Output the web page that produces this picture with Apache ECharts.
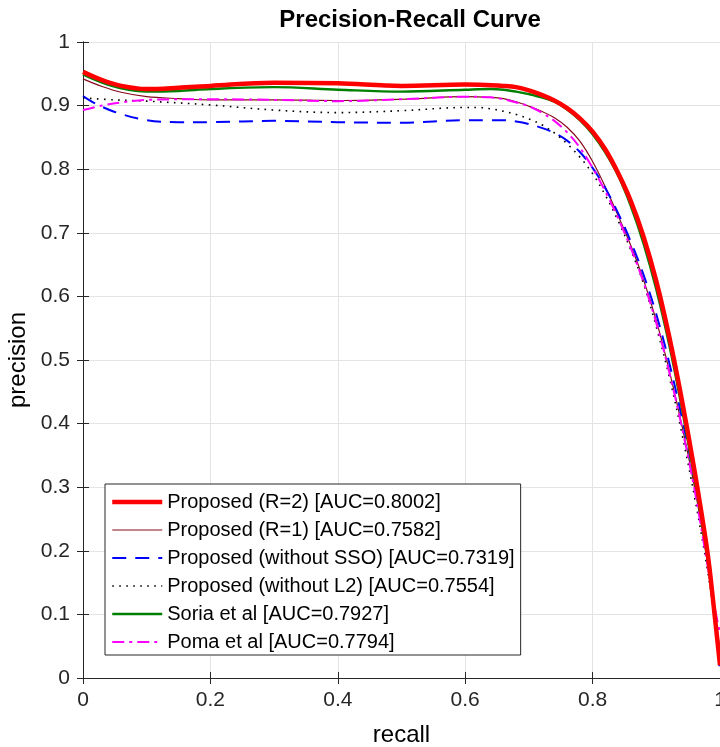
<!DOCTYPE html>
<html>
<head>
<meta charset="utf-8">
<script src="https://cdn.jsdelivr.net/npm/echarts@6/dist/echarts.min.js"></script>
<style>
html,body{margin:0;padding:0;background:#fff;}
#chart{width:720px;height:747px;}
</style>
</head>
<body>
<div id="chart"></div>
<script>
// ---- data (recall, precision) ----
const seriesNames = [
  'Proposed (R=2) [AUC=0.8002]',
  'Proposed (R=1) [AUC=0.7582]',
  'Proposed (without SSO) [AUC=0.7319]',
  'Proposed (without L2) [AUC=0.7554]',
  'Soria et al [AUC=0.7927]',
  'Poma et al [AUC=0.7794]'
];
const xTicks = [0, 0.2, 0.4, 0.6, 0.8, 1];
const yTicks = [0, 0.1, 0.2, 0.3, 0.4, 0.5, 0.6, 0.7, 0.8, 0.9, 1];

const proposedR2 = [[0,0.953],[0.03,0.940],[0.06,0.931],[0.1,0.926],[0.15,0.928],[0.2,0.931],[0.3,0.936],[0.4,0.935],[0.5,0.931],[0.6,0.933],[0.64,0.932],[0.66,0.931],[0.68,0.929],[0.70,0.924],[0.72,0.917],[0.74,0.908],[0.76,0.896],[0.78,0.880],[0.80,0.859],[0.82,0.831],[0.84,0.794],[0.86,0.750],[0.88,0.694],[0.90,0.624],[0.92,0.538],[0.94,0.438],[0.96,0.326],[0.98,0.200],[0.99,0.114],[1.0,0.020]];
const proposedR1 = [[0,0.942],[0.03,0.930],[0.06,0.921],[0.1,0.914],[0.15,0.911],[0.2,0.909],[0.3,0.909],[0.4,0.908],[0.5,0.910],[0.6,0.914],[0.64,0.913],[0.66,0.911],[0.68,0.906],[0.70,0.899],[0.72,0.891],[0.74,0.881],[0.76,0.866],[0.78,0.844],[0.80,0.812],[0.82,0.772],[0.84,0.727],[0.86,0.680],[0.88,0.626],[0.90,0.562],[0.92,0.485],[0.94,0.398],[0.96,0.300],[0.98,0.185],[0.99,0.115],[1.0,0.045]];
const withoutSSO = [[0,0.915],[0.02,0.903],[0.05,0.890],[0.1,0.877],[0.15,0.874],[0.2,0.874],[0.3,0.876],[0.4,0.874],[0.5,0.873],[0.6,0.877],[0.64,0.877],[0.66,0.877],[0.68,0.875],[0.70,0.871],[0.72,0.865],[0.74,0.857],[0.76,0.845],[0.78,0.827],[0.80,0.802],[0.82,0.770],[0.84,0.731],[0.86,0.686],[0.88,0.634],[0.90,0.572],[0.92,0.497],[0.94,0.410],[0.96,0.312],[0.98,0.195],[0.99,0.120],[1.0,0.010]];
const withoutL2 = [[0,0.912],[0.05,0.909],[0.1,0.907],[0.2,0.901],[0.3,0.893],[0.4,0.889],[0.5,0.892],[0.6,0.897],[0.62,0.897],[0.64,0.895],[0.66,0.891],[0.68,0.886],[0.70,0.879],[0.72,0.870],[0.74,0.857],[0.76,0.840],[0.78,0.819],[0.80,0.793],[0.82,0.759],[0.84,0.719],[0.86,0.673],[0.88,0.620],[0.90,0.552],[0.92,0.475],[0.94,0.385],[0.96,0.285],[0.98,0.172],[0.99,0.105],[1.0,0.030]];
const soria = [[0,0.949],[0.03,0.936],[0.06,0.927],[0.1,0.922],[0.15,0.923],[0.2,0.926],[0.3,0.929],[0.4,0.925],[0.5,0.922],[0.6,0.925],[0.64,0.926],[0.66,0.925],[0.68,0.922],[0.70,0.918],[0.72,0.913],[0.74,0.906],[0.76,0.894],[0.78,0.877],[0.80,0.855],[0.82,0.826],[0.84,0.790],[0.86,0.742],[0.88,0.683],[0.90,0.611],[0.92,0.525],[0.94,0.425],[0.96,0.313],[0.98,0.188],[0.99,0.108],[1.0,0.025]];
const poma = [[0,0.893],[0.03,0.900],[0.06,0.905],[0.1,0.909],[0.2,0.910],[0.3,0.909],[0.4,0.907],[0.5,0.910],[0.6,0.914],[0.64,0.913],[0.66,0.910],[0.68,0.905],[0.70,0.899],[0.72,0.889],[0.74,0.876],[0.76,0.858],[0.78,0.834],[0.80,0.802],[0.82,0.765],[0.84,0.723],[0.86,0.676],[0.88,0.622],[0.90,0.558],[0.92,0.482],[0.94,0.395],[0.96,0.296],[0.98,0.180],[0.99,0.120],[1.0,0.070]];

const seriesData = [proposedR2, proposedR1, withoutSSO, withoutL2, soria, poma];
const styles = [
  {color:'#ff0000', width:4.5, type:'solid'},
  {color:'#850a1c', width:1.2, type:'solid'},
  {color:'#0000ff', width:2, type:[14,9]},
  {color:'#000000', width:1.6, type:[1.6,5.4]},
  {color:'#008000', width:2.4, type:'solid'},
  {color:'#ff00ff', width:2, type:[12,5,3,5]}
];

const FONT = '"Liberation Sans", Arial, sans-serif';
const axisColor = '#262626';
const gridColor = '#e3e3e3';

const chart = echarts.init(document.getElementById('chart'), null, {renderer:'canvas'});
const option = {
  animation: false,
  backgroundColor: '#ffffff',
  title: {
    text: 'Precision-Recall Curve',
    left: 405, top: 3, textAlign: 'center',
    textStyle: {fontFamily: FONT, fontSize: 24, fontWeight: 'bold', color: '#000'}
  },
  grid: {left: 83, top: 42, right: 0, bottom: 69, containLabel: false, outerBoundsMode: 'none'},
  legend: {
    orient: 'vertical',
    left: 105, top: 484,
    padding: [8, 6, 3, 5],
    itemWidth: 50, itemHeight: 18, itemGap: 8,
    backgroundColor: '#ffffff',
    borderColor: axisColor, borderWidth: 1, borderRadius: 0,
    textStyle: {fontFamily: FONT, fontSize: 20, color: '#000'},
    itemStyle: {opacity: 0},
    lineStyle: {width: 'inherit'},
    data: seriesNames
  },
  xAxis: [{
    type: 'value', min: xTicks[0], max: xTicks[xTicks.length-1], interval: 0.2,
    name: 'recall', nameLocation: 'middle', nameGap: 45,
    nameTextStyle: {fontFamily: FONT, fontSize: 24, color: '#000'},
    axisLine: {show: true, lineStyle: {color: axisColor, width: 1}},
    axisTick: {show: true, inside: true, length: 6, lineStyle: {color: axisColor}},
    axisLabel: {fontFamily: FONT, fontSize: 21, color: axisColor, margin: 12},
    splitLine: {show: true, lineStyle: {color: gridColor, width: 1}}
  }, {
    type: 'value', position: 'top', min: 0, max: 1, interval: 0.2,
    axisLine: {show: true, lineStyle: {color: axisColor, width: 1}},
    axisTick: {show: true, inside: true, length: 6, lineStyle: {color: axisColor}},
    axisLabel: {show: false}, splitLine: {show: false}
  }],
  yAxis: [{
    type: 'value', min: yTicks[0], max: yTicks[yTicks.length-1], interval: 0.1,
    name: 'precision', nameLocation: 'middle', nameGap: 50,
    nameTextStyle: {fontFamily: FONT, fontSize: 24, color: '#000'},
    axisLine: {show: true, lineStyle: {color: axisColor, width: 1}},
    axisTick: {show: true, inside: true, length: 6, lineStyle: {color: axisColor}},
    axisLabel: {fontFamily: FONT, fontSize: 21, color: axisColor, margin: 13},
    splitLine: {show: true, lineStyle: {color: gridColor, width: 1}}
  }, {
    type: 'value', position: 'right', min: 0, max: 1, interval: 0.1,
    axisLine: {show: true, lineStyle: {color: axisColor, width: 1}},
    axisTick: {show: true, inside: true, length: 6, lineStyle: {color: axisColor}},
    axisLabel: {show: false}, splitLine: {show: false}
  }],
  series: seriesNames.map((name, i) => ({
    name: name,
    type: 'line',
    data: seriesData[i],
    xAxisIndex: 0, yAxisIndex: 0,
    smooth: 0.35,
    symbol: 'none',
    showSymbol: false,
    clip: true,
    color: styles[i].color,
    lineStyle: {color: styles[i].color, width: styles[i].width, type: styles[i].type},
    z: i === 0 ? 3 : 2
  }))
};
chart.setOption(option);
</script>
</body>
</html>
